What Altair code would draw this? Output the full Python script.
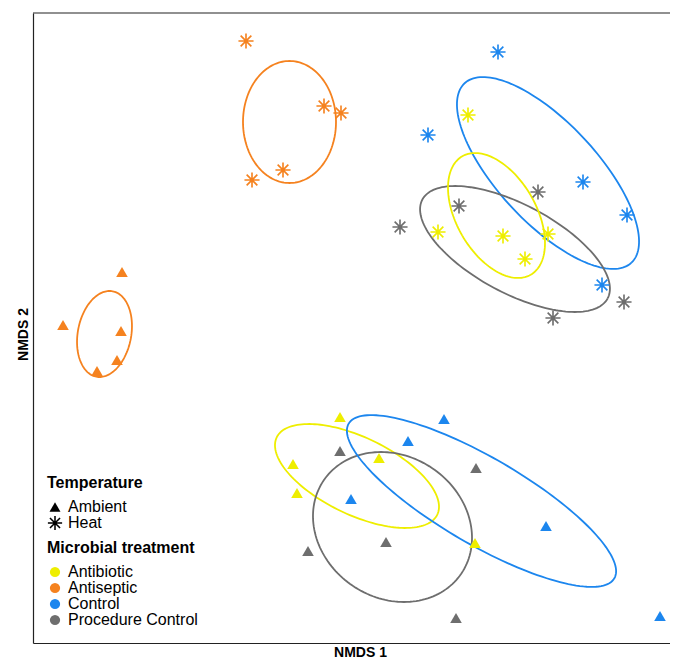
import altair as alt
import numpy as np
import pandas as pd

# ---------------- data (NMDS scores) ----------------
treat_names = ["Antibiotic", "Antiseptic", "Control", "Procedure Control"]
treat_colors = ["#EEEE00", "#F5821F", "#1C86EE", "#6E6E6E"]
temp_names = ["Ambient", "Heat"]

antibiotic_ambient_x = [-0.15, -0.62, -0.58, 0.24, 1.20]
antibiotic_ambient_y = [-0.87, -1.34, -1.63, -1.28, -2.13]
antibiotic_heat_x = [1.13, 0.83, 1.48, 1.93, 1.70]
antibiotic_heat_y = [2.15, 0.98, 0.94, 0.96, 0.71]

antiseptic_ambient_x = [-2.33, -2.92, -2.34, -2.38, -2.58]
antiseptic_ambient_y = [0.58, 0.05, -0.01, -0.30, -0.41]
antiseptic_heat_x = [-1.09, -0.31, -0.14, -0.72, -1.03]
antiseptic_heat_y = [2.89, 2.24, 2.17, 1.60, 1.50]

control_ambient_x = [0.89, 0.53, -0.04, 1.91, 3.05]
control_ambient_y = [-0.89, -1.11, -1.69, -1.96, -2.86]
control_heat_x = [1.43, 0.73, 2.28, 2.72, 2.47]
control_heat_y = [2.78, 1.95, 1.48, 1.15, 0.45]

procedure_ambient_x = [-0.15, 1.21, 0.31, -0.47, 1.01]
procedure_ambient_y = [-1.21, -1.38, -2.12, -2.21, -2.88]
procedure_heat_x = [1.83, 1.04, 0.45, 2.69, 1.98]
procedure_heat_y = [1.38, 1.24, 1.03, 0.28, 0.12]

# ellipse parameters: treatment, temperature, centre x, centre y, semi-major, semi-minor, angle (deg)
ell_treat = ["Antiseptic", "Antiseptic", "Control", "Procedure Control", "Antibiotic",
             "Antibiotic", "Procedure Control", "Control"]
ell_temp = ["Ambient", "Heat", "Heat", "Heat", "Heat", "Ambient", "Ambient", "Ambient"]
ell_cx = [-2.505, -0.655, 1.93, 1.60, 1.415, 0.02, 0.375, 1.265]
ell_cy = [-0.04, 2.08, 1.57, 0.81, 1.145, -1.46, -1.97, -1.71]
ell_a = [0.435, 0.61, 1.225, 1.05, 0.684, 0.891, 0.831, 1.537]
ell_b = [0.267, 0.465, 0.499, 0.442, 0.397, 0.386, 0.71, 0.433]
ell_angle = [79.2, 90.0, -47.1, -28.1, -60.0, -25.7, -34.0, -30.2]

# ---------------- build tables ----------------
groups = [
    ("Antibiotic", "Ambient", antibiotic_ambient_x, antibiotic_ambient_y),
    ("Antibiotic", "Heat", antibiotic_heat_x, antibiotic_heat_y),
    ("Antiseptic", "Ambient", antiseptic_ambient_x, antiseptic_ambient_y),
    ("Antiseptic", "Heat", antiseptic_heat_x, antiseptic_heat_y),
    ("Control", "Ambient", control_ambient_x, control_ambient_y),
    ("Control", "Heat", control_heat_x, control_heat_y),
    ("Procedure Control", "Ambient", procedure_ambient_x, procedure_ambient_y),
    ("Procedure Control", "Heat", procedure_heat_x, procedure_heat_y),
]
rows = []
for tr, tp, xs, ys in groups:
    for x, y in zip(xs, ys):
        rows.append({"NMDS1": x, "NMDS2": y, "Microbial treatment": tr, "Temperature": tp})
pts = pd.DataFrame(rows)

erows = []
t = np.linspace(0, 2 * np.pi, 161)
for i in range(len(ell_cx)):
    th = np.deg2rad(ell_angle[i])
    ex = ell_cx[i] + ell_a[i] * np.cos(t) * np.cos(th) - ell_b[i] * np.sin(t) * np.sin(th)
    ey = ell_cy[i] + ell_a[i] * np.cos(t) * np.sin(th) + ell_b[i] * np.sin(t) * np.cos(th)
    for k in range(len(t)):
        erows.append({"NMDS1": ex[k], "NMDS2": ey[k], "Microbial treatment": ell_treat[i],
                      "grp": f"{ell_treat[i]}-{ell_temp[i]}", "idx": k})
ell = pd.DataFrame(erows)

# filled eight-armed asterisk (all sub-paths wound the same way)
ASTERISK = ("M-1.3,-0.14L1.3,-0.14L1.3,0.14L-1.3,0.14Z"
            "M-0.14,-1.3L0.14,-1.3L0.14,1.3L-0.14,1.3Z"
            "M-0.82,-1.02L1.02,0.82L0.82,1.02L-1.02,-0.82Z"
            "M-0.82,1.02L-1.02,0.82L0.82,-1.02L1.02,-0.82Z")

W, H = 637, 630
FONT = "Liberation Sans"

xscale = alt.Scale(domain=[-3.22, 3.15], nice=False, zero=False)
yscale = alt.Scale(domain=[-3.13, 3.17], nice=False, zero=False)
cscale = alt.Scale(domain=treat_names, range=treat_colors)
sscale = alt.Scale(domain=temp_names, range=["triangle-up", ASTERISK])

xaxis = alt.Axis(title="NMDS 1", ticks=False, labels=False, grid=False, domainColor="#222222",
                 domainWidth=1.2, titleFontSize=14, titleFontWeight="bold", titleFont=FONT,
                 titleColor="black", titlePadding=2, titleX=327)
yaxis = alt.Axis(title="NMDS 2", ticks=False, labels=False, grid=False, domainColor="#222222",
                 domainWidth=1.2, titleFontSize=14, titleFontWeight="bold", titleFont=FONT,
                 titleColor="black", titlePadding=3, titleY=321)

legend_common = dict(orient="none", legendX=14, titleFontSize=16, labelFontSize=16,
                     titleFont=FONT, labelFont=FONT, titleColor="black", labelColor="black",
                     titlePadding=8, labelOffset=5, padding=0)

ellipses = alt.Chart(ell).mark_line(strokeWidth=1.8, clip=False).encode(
    x=alt.X("NMDS1:Q", scale=xscale, axis=xaxis),
    y=alt.Y("NMDS2:Q", scale=yscale, axis=yaxis),
    color=alt.Color("Microbial treatment:N", scale=cscale, legend=None),
    detail="grp:N",
    order="idx:Q",
)

points = alt.Chart(pts).mark_point(filled=True, opacity=1, strokeWidth=0, size=135).encode(
    x=alt.X("NMDS1:Q", scale=xscale),
    y=alt.Y("NMDS2:Q", scale=yscale),
    fill=alt.Fill("Microbial treatment:N", scale=cscale,
                  legend=alt.Legend(title="Microbial treatment", legendY=527, rowPadding=-3,
                                    symbolType="circle", symbolSize=105, symbolStrokeWidth=0,
                                    **legend_common)),
    shape=alt.Shape("Temperature:N", scale=sscale,
                    legend=alt.Legend(title="Temperature", legendY=462, rowPadding=-0.5,
                                      symbolFillColor="black", symbolStrokeWidth=0,
                                      symbolSize=120, **legend_common)),
)

# top frame line of the panel
topline = alt.Chart(alt.Data(values=[{"a": 1}])).mark_rule(color="#222222", strokeWidth=1.2).encode(
    x=alt.value(0), x2=alt.value(W), y=alt.value(0)
)

chart = alt.layer(ellipses, points, topline).resolve_scale(
    color="independent", fill="independent"
).properties(
    width=W, height=H,
    background="white",
    autosize=alt.AutoSizeParams(type="none"),
    padding={"left": 25, "top": 5, "right": 0, "bottom": 15},
).configure_view(stroke="transparent", strokeWidth=0, strokeOpacity=0)

chart.save("out.html", embed_options={"renderer": "svg", "actions": False})
